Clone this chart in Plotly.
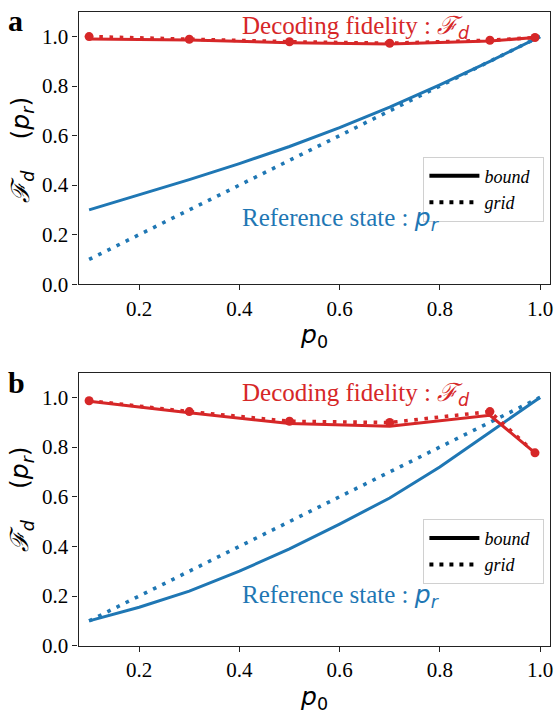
import plotly.graph_objects as go

# ---------------- data ----------------
p0_pts = [0.1, 0.3, 0.5, 0.7, 0.9, 0.99]
a_fid_bound = [0.990, 0.986, 0.975, 0.970, 0.982, 0.996]
a_fid_grid = [1.000, 0.989, 0.979, 0.973, 0.985, 0.996]
b_fid_bound = [0.985, 0.938, 0.895, 0.884, 0.928, 0.777]
b_fid_grid = [0.987, 0.943, 0.904, 0.899, 0.943, 0.777]

p0_ref = [0.1, 0.2, 0.3, 0.4, 0.5, 0.6, 0.7, 0.8, 0.9, 1.0]
a_ref_bound = [0.300, 0.360, 0.422, 0.487, 0.556, 0.632, 0.715, 0.805, 0.900, 1.000]
a_ref_grid = [0.10, 0.20, 0.30, 0.40, 0.50, 0.60, 0.70, 0.80, 0.90, 1.00]
b_ref_bound = [0.100, 0.155, 0.220, 0.300, 0.390, 0.490, 0.595, 0.720, 0.860, 1.000]
b_ref_grid = [0.10, 0.20, 0.30, 0.40, 0.50, 0.60, 0.70, 0.80, 0.90, 1.00]

x_ticks = [0.2, 0.4, 0.6, 0.8, 1.0]
y_ticks = [0.0, 0.2, 0.4, 0.6, 0.8, 1.0]
panel_labels = ["a", "b"]

RED = "#d62728"
BLUE = "#1f77b4"
SERIF = "Liberation Serif, Times New Roman, serif"
SANS = "DejaVu Sans"
W_SOLID = 3
W_DOT = 3.6
DOT = "3.6px,6.6px"

fig = go.Figure()

panels = [
    ("x", "y", a_ref_bound, a_ref_grid, a_fid_bound, a_fid_grid),
    ("x2", "y2", b_ref_bound, b_ref_grid, b_fid_bound, b_fid_grid),
]
for xa, ya, rb, rg, fb, fg in panels:
    fig.add_trace(go.Scatter(x=p0_ref, y=rb, xaxis=xa, yaxis=ya, mode="lines",
                             line=dict(color=BLUE, width=W_SOLID), showlegend=False))
    fig.add_trace(go.Scatter(x=p0_ref, y=rg, xaxis=xa, yaxis=ya, mode="lines",
                             line=dict(color=BLUE, width=W_DOT, dash=DOT), showlegend=False))
    fig.add_trace(go.Scatter(x=p0_pts, y=fb, xaxis=xa, yaxis=ya, mode="lines",
                             line=dict(color=RED, width=W_SOLID), showlegend=False))
    fig.add_trace(go.Scatter(x=p0_pts, y=fg, xaxis=xa, yaxis=ya, mode="lines+markers",
                             line=dict(color=RED, width=W_DOT, dash=DOT),
                             marker=dict(color=RED, size=9), showlegend=False))

# legend entries (black samples)
for leg in ["legend", "legend2"]:
    fig.add_trace(go.Scatter(x=[None], y=[None], mode="lines", name="<i>bound</i>&nbsp;&nbsp;",
                             line=dict(color="black", width=4), legend=leg))
    fig.add_trace(go.Scatter(x=[None], y=[None], mode="lines", name="<i>grid</i>",
                             line=dict(color="black", width=4, dash="4px,6px"), legend=leg))

W, H = 558, 716
xdom = [79 / W, 553 / W]
ydom_a = [1 - 289 / H, 1 - 12 / H]
ydom_b = [1 - 656.7 / H, 1 - 379 / H]

axis_common = dict(showline=True, linecolor="#222", linewidth=1.3, mirror=True,
                   ticks="outside", ticklen=5, tickwidth=1.2, tickcolor="#222",
                   showgrid=False, zeroline=False,
                   tickfont=dict(family=SERIF, size=21, color="black"),
                   tickformat=".1f")

legend_common = dict(bgcolor="rgba(255,255,255,0.8)", bordercolor="#d0d0d0", borderwidth=1,
                     font=dict(family=SERIF, size=18, color="black"),
                     xanchor="left", yanchor="top", itemwidth=50, tracegroupgap=0)

fig.update_layout(
    width=W, height=H, margin=dict(l=0, r=0, t=0, b=0),
    paper_bgcolor="white", plot_bgcolor="white",
    font=dict(family=SERIF, color="black"),
    xaxis=dict(domain=xdom, range=[0.079, 1.02], tickvals=x_ticks, anchor="y", **axis_common),
    yaxis=dict(domain=ydom_a, range=[0, 1.1], tickvals=y_ticks, anchor="x", **axis_common),
    xaxis2=dict(domain=xdom, range=[0.079, 1.02], tickvals=x_ticks, anchor="y2", **axis_common),
    yaxis2=dict(domain=ydom_b, range=[0, 1.1], tickvals=y_ticks, anchor="x2", **axis_common),
    legend=dict(x=425.7 / W, y=1 - 159.3 / H, **legend_common),
    legend2=dict(x=425.7 / W, y=1 - 527.7 / H, **legend_common),
)

FD = "<span style='font-family:DejaVu Serif'><i>ℱ</i></span><sub><span style='font-family:DejaVu Sans'><i>d</i></span></sub>"
PR = "<span style='font-family:DejaVu Sans'><i>p</i><sub><i>r</i></sub></span>"

ann = []
for (xr, yr, dec_y, ref_y, lab, ax_bottom, ax_center) in [
    ("x", "y", 1.037, 0.262, panel_labels[0], 289, 152.5),
    ("x2", "y2", 1.013, 0.200, panel_labels[1], 656.7, 508),
]:
    ann.append(dict(x=0.402, y=dec_y, xref=xr, yref=yr, xanchor="left", yanchor="middle",
                    text="Decoding fidelity : " + FD, showarrow=False,
                    font=dict(family=SERIF, size=25, color=RED)))
    ann.append(dict(x=0.402, y=ref_y, xref=xr, yref=yr, xanchor="left", yanchor="middle",
                    text="Reference state : " + PR, showarrow=False,
                    font=dict(family=SERIF, size=25, color=BLUE)))
    ann.append(dict(x=316 / W, y=1 - (ax_bottom + 53) / H, xref="paper", yref="paper",
                    xanchor="center", yanchor="middle",
                    text="<i>p</i><sub>0</sub>", showarrow=False,
                    font=dict(family=SANS, size=25, color="black")))
    ann.append(dict(x=22 / W, y=1 - ax_center / H, xref="paper", yref="paper",
                    xanchor="center", yanchor="middle", textangle=-90,
                    text=FD + "&nbsp;&nbsp;&nbsp;&nbsp;&nbsp;"
                    + "<span style='font-family:DejaVu Sans'>(<i>p</i><sub><i>r</i></sub>)</span>",
                    showarrow=False, font=dict(family=SERIF, size=25, color="black")))
    ann.append(dict(x=6 / W, y=1 - (ax_bottom - 277 - 10) / H, xref="paper", yref="paper",
                    xanchor="left", yanchor="top", text="<b>" + lab + "</b>", showarrow=False,
                    font=dict(family=SERIF, size=30, color="black")))
fig.update_layout(annotations=ann)

fig.write_html("out.html")
